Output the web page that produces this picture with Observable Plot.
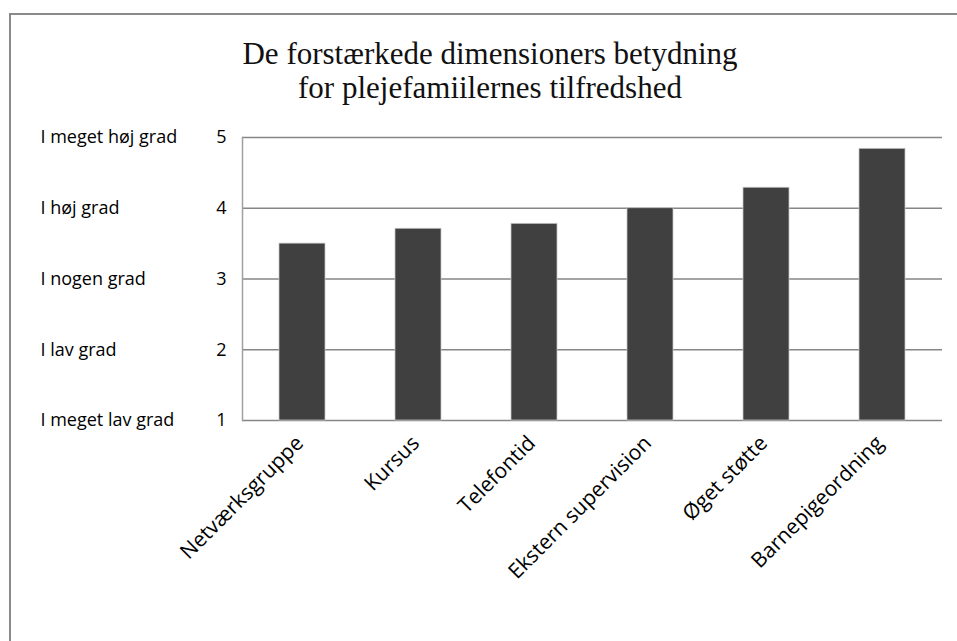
<!DOCTYPE html>
<html><head><meta charset="utf-8">
<script src="https://cdn.jsdelivr.net/npm/d3@7"></script>
<script src="https://cdn.jsdelivr.net/npm/@observablehq/plot@0.6"></script>
<style>
body{margin:0;background:#fff;}
#wrap{position:relative;width:957px;height:641px;overflow:hidden;background:#fff;}
#frame{position:absolute;left:9px;top:13px;width:1000px;height:700px;border:2px solid #8a8a8a;box-sizing:border-box;}
#title{position:absolute;left:0;width:980px;top:37px;text-align:center;font-family:"Liberation Serif",serif;font-size:31px;line-height:34px;color:#111;}
#chart{position:absolute;left:0;top:0;}
</style></head>
<body><div id="wrap"><div id="frame"></div><div id="title">De forstærkede dimensioners betydning<br>for plejefamiilernes tilfredshed</div><div id="chart"></div></div>
<script>
const categories = ["Netværksgruppe", "Kursus", "Telefontid", "Ekstern supervision", "Øget støtte", "Barnepigeordning"];
const values = [3.5, 3.71, 3.78, 4.0, 4.29, 4.84];
const yTicks = [1, 2, 3, 4, 5];
const levelLabels = ["I meget lav grad", "I lav grad", "I nogen grad", "I høj grad", "I meget høj grad"];

const data = categories.map((c, i) => ({category: c, value: values[i]}));
const levels = yTicks.map((t, i) => ({tick: t, label: levelLabels[i]}));

const plot = Plot.plot({
  width: 957, height: 641,
  marginLeft: 242, marginRight: 15, marginTop: 137, marginBottom: 221,
  style: {fontFamily: "'Open Sans', sans-serif", fontSize: "18px", background: "transparent", color: "#000"},
  x: {domain: categories, paddingInner: 0.6, paddingOuter: 0.3, axis: null},
  y: {domain: [1, 5], ticks: yTicks, axis: null},
  marks: [
    Plot.gridY(yTicks, {stroke: "#868686", strokeOpacity: 1, strokeWidth: 1.5}),
    Plot.frame({anchor: "left", stroke: "#a0a0a0", strokeWidth: 1.5}),
    Plot.barY(data, {x: "category", y1: 1, y2: "value", fill: "#404040", stroke: "#c8c8c8", strokeWidth: 0.75}),
    Plot.axisY({ticks: yTicks, tickFormat: "d", tickSize: 0, tickPadding: 16, label: null, fontSize: 18}),
    Plot.text(levels, {y: "tick", text: "label", frameAnchor: "left", textAnchor: "start", dx: -202, fontSize: 18}),
    Plot.text(data, {x: "category", text: "category", frameAnchor: "bottom", rotate: -45, textAnchor: "end", dx: 2, dy: 24, fontSize: 21})
  ]
});
document.getElementById("chart").appendChild(plot);
</script>
</body></html>
